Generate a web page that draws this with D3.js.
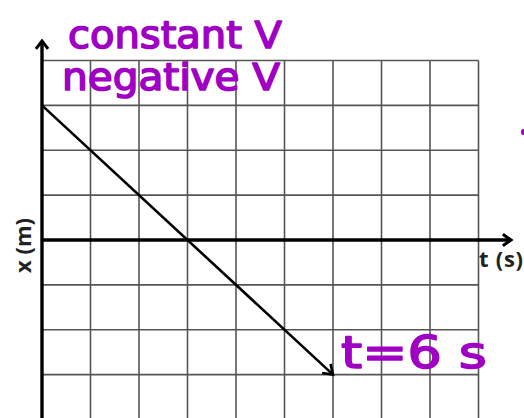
<!DOCTYPE html>
<html>
<head>
<meta charset="utf-8">
<script src="https://cdn.jsdelivr.net/npm/d3@7"></script>
<style>
  html, body { margin: 0; padding: 0; background: #fff; }
  svg { display: block; }
</style>
</head>
<body>
<div id="chart"></div>
<script>
// grid units (one square per tick)
const timeTicks = [0, 1, 2, 3, 4, 5, 6, 7, 8, 9]
const posTicks = [-4, -3, -2, -1, 0, 1, 2, 3, 4]

// the motion drawn on the graph: start and end of the straight line
const motionT = [0, 6]
const motionX = [3, -3]

// handwritten notes
const noteLines = ['constant V', 'negative V']
const endNote = 't=6 s'

const width = 524
const height = 418
const purple = '#a000c4'

const xScale = d3.scaleLinear()
    .domain([0, 9])
    .range([42, 478.5])

const yScale = d3.scaleLinear()
    .domain([-4, 4])
    .range([419.5, 60.5])

const svg = d3.select('#chart').append('svg')
    .attr('width', width)
    .attr('height', height)

// grid
const grid = svg.append('g').attr('class', 'grid')

grid.selectAll('line.v')
    .data(timeTicks.filter(t => t > 0))
    .enter().append('line')
    .attr('class', 'v')
    .attr('x1', d => xScale(d))
    .attr('x2', d => xScale(d))
    .attr('y1', yScale(4))
    .attr('y2', height)
    .attr('stroke', '#555')
    .attr('stroke-width', 1.6)

grid.selectAll('line.h')
    .data(posTicks.filter(v => v !== 0))
    .enter().append('line')
    .attr('class', 'h')
    .attr('x1', xScale(0))
    .attr('x2', xScale(9))
    .attr('y1', d => yScale(d))
    .attr('y2', d => yScale(d))
    .attr('stroke', '#555')
    .attr('stroke-width', 1.6)

// chevron arrowhead at (x, y) pointing along angle a
function chevron(x, y, a, len, spread) {
  const p1 = [x - len * Math.cos(a - spread), y - len * Math.sin(a - spread)]
  const p2 = [x - len * Math.cos(a + spread), y - len * Math.sin(a + spread)]
  return `M${p1[0]},${p1[1]}L${x},${y}L${p2[0]},${p2[1]}`
}

// axes
const axes = svg.append('g').attr('class', 'axes')
const x0 = xScale(0)
const y0 = yScale(0)

axes.append('line')
    .attr('x1', x0).attr('x2', x0)
    .attr('y1', height).attr('y2', 41)
    .attr('stroke', '#000').attr('stroke-width', 3.4)

axes.append('path')
    .attr('d', chevron(x0, 41, -Math.PI / 2, 10, 0.65))
    .attr('fill', 'none').attr('stroke', '#000').attr('stroke-width', 3)

axes.append('line')
    .attr('x1', x0).attr('x2', 511)
    .attr('y1', y0).attr('y2', y0)
    .attr('stroke', '#000').attr('stroke-width', 3.4)

axes.append('path')
    .attr('d', chevron(511, y0, 0, 10, 0.62))
    .attr('fill', 'none').attr('stroke', '#000').attr('stroke-width', 3)

axes.append('text')
    .attr('x', 479)
    .attr('y', 267)
    .attr('font-family', 'Open Sans, sans-serif')
    .attr('font-weight', 'bold')
    .attr('font-size', 22)
    .attr('textLength', 44)
    .attr('fill', '#222')
    .text('t (s)')

axes.append('text')
    .attr('transform', 'translate(31, 245.5) rotate(-90)')
    .attr('text-anchor', 'middle')
    .attr('font-family', 'Open Sans, sans-serif')
    .attr('font-weight', 'bold')
    .attr('font-size', 22)
    .attr('fill', '#222')
    .text('x (m)')

// motion line
const pts = motionT.map((t, i) => [xScale(t), yScale(motionX[i])])
svg.append('path')
    .attr('d', d3.line()(pts))
    .attr('fill', 'none')
    .attr('stroke', '#000')
    .attr('stroke-width', 2.6)

const end = pts[pts.length - 1]
const prev = pts[pts.length - 2]
const ang = Math.atan2(end[1] - prev[1], end[0] - prev[0])
svg.append('path')
    .attr('d', chevron(end[0], end[1], ang, 11, 0.6))
    .attr('fill', 'none')
    .attr('stroke', '#000')
    .attr('stroke-width', 2.6)

// handwritten notes
const notes = svg.append('g')
    .attr('font-family', 'DejaVu Sans, sans-serif')
    .attr('fill', purple)
    .attr('stroke', purple)
    .attr('stroke-width', 1.6)
    .attr('stroke-linejoin', 'round')

const notePos = [
  { x: 68, y: 48, len: 214 },
  { x: 62, y: 90, len: 218 }
]
notes.selectAll('text.note')
    .data(noteLines)
    .enter().append('text')
    .attr('class', 'note')
    .attr('x', (d, i) => notePos[i].x)
    .attr('y', (d, i) => notePos[i].y)
    .attr('font-size', 38)
    .attr('textLength', (d, i) => notePos[i].len)
    .attr('lengthAdjust', 'spacingAndGlyphs')
    .text(d => d)

notes.append('text')
    .attr('x', 341)
    .attr('y', 368)
    .attr('font-size', 44)
    .attr('textLength', 146)
    .attr('lengthAdjust', 'spacingAndGlyphs')
    .text(endNote)

// stray pen dot at the right edge
svg.append('ellipse')
    .attr('cx', 523).attr('cy', 132)
    .attr('rx', 2).attr('ry', 3)
    .attr('fill', purple)
</script>
</body>
</html>
